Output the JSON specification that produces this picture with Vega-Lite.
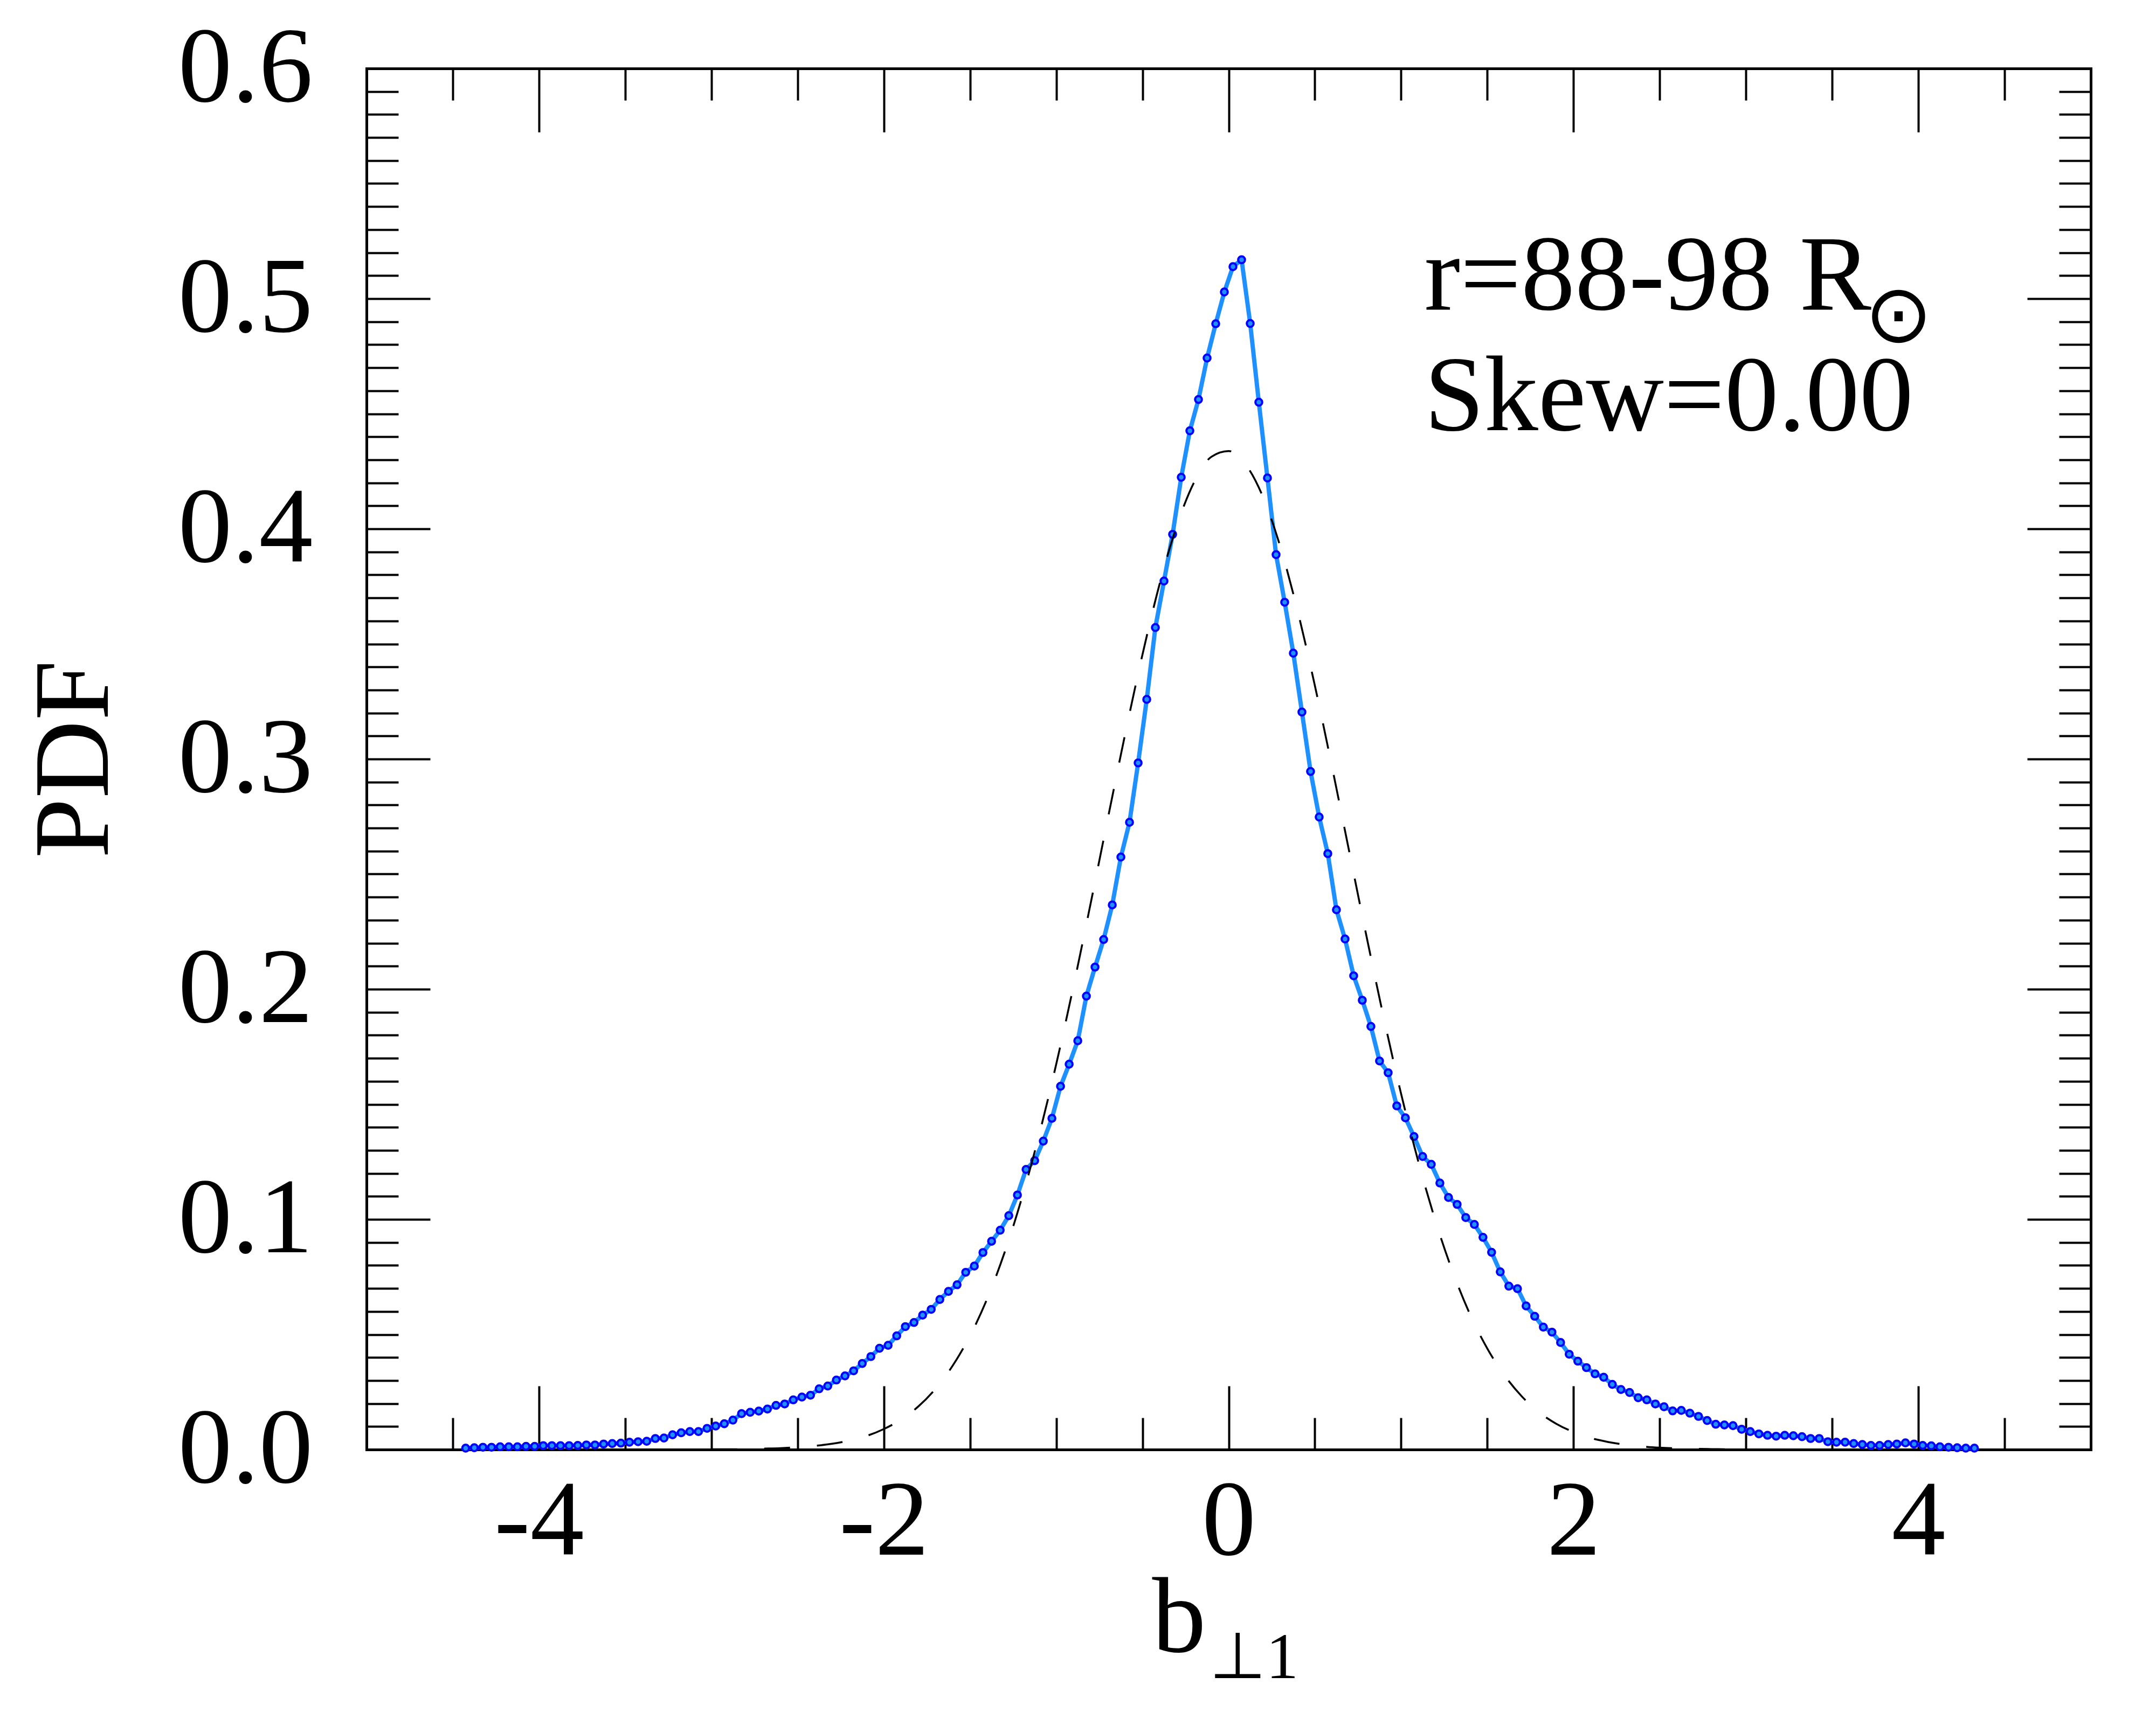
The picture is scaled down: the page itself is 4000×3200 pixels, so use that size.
{
  "$schema": "https://vega.github.io/schema/vega-lite/v6.json",
  "width": 3199,
  "height": 2562,
  "autosize": {"type": "none"},
  "padding": {"left": 680, "top": 127, "right": 121, "bottom": 511},
  "background": "white",
  "config": {
    "view": {"stroke": null},
    "axis": {
      "grid": false,
      "domainColor": "black",
      "domainWidth": 5,
      "domainCap": "square",
      "tickColor": "black",
      "tickWidth": 4,
      "labelFont": "Liberation Serif",
      "labelFontSize": 200,
      "labelColor": "black",
      "labelLimit": 0,
      "titleFont": "Liberation Serif",
      "titleFontSize": 200,
      "titleColor": "black",
      "titleFontWeight": "normal",
      "titleLimit": 0
    }
  },
  "datasets": {
    "pdf": [
      {"b": -4.425, "pdf": 0.0006}, {"b": -4.375, "pdf": 0.0008}, {"b": -4.325, "pdf": 0.001}, {"b": -4.275, "pdf": 0.001},
      {"b": -4.225, "pdf": 0.0012}, {"b": -4.175, "pdf": 0.0012}, {"b": -4.125, "pdf": 0.0012}, {"b": -4.075, "pdf": 0.0014},
      {"b": -4.025, "pdf": 0.0014}, {"b": -3.975, "pdf": 0.0017}, {"b": -3.925, "pdf": 0.0017}, {"b": -3.875, "pdf": 0.0017},
      {"b": -3.825, "pdf": 0.0017}, {"b": -3.775, "pdf": 0.0018}, {"b": -3.725, "pdf": 0.002}, {"b": -3.675, "pdf": 0.002},
      {"b": -3.625, "pdf": 0.0024}, {"b": -3.575, "pdf": 0.0026}, {"b": -3.525, "pdf": 0.0028}, {"b": -3.475, "pdf": 0.0032},
      {"b": -3.425, "pdf": 0.0034}, {"b": -3.375, "pdf": 0.0036}, {"b": -3.325, "pdf": 0.0048}, {"b": -3.275, "pdf": 0.005},
      {"b": -3.225, "pdf": 0.0064}, {"b": -3.175, "pdf": 0.0073}, {"b": -3.125, "pdf": 0.0078}, {"b": -3.075, "pdf": 0.0078},
      {"b": -3.025, "pdf": 0.0092}, {"b": -2.975, "pdf": 0.0102}, {"b": -2.925, "pdf": 0.0112}, {"b": -2.875, "pdf": 0.0128},
      {"b": -2.825, "pdf": 0.0156}, {"b": -2.775, "pdf": 0.0162}, {"b": -2.725, "pdf": 0.0167}, {"b": -2.675, "pdf": 0.0176},
      {"b": -2.625, "pdf": 0.0192}, {"b": -2.575, "pdf": 0.0198}, {"b": -2.525, "pdf": 0.0216}, {"b": -2.475, "pdf": 0.0228},
      {"b": -2.425, "pdf": 0.0236}, {"b": -2.375, "pdf": 0.0264}, {"b": -2.325, "pdf": 0.0276}, {"b": -2.275, "pdf": 0.0302},
      {"b": -2.225, "pdf": 0.032}, {"b": -2.175, "pdf": 0.0342}, {"b": -2.125, "pdf": 0.0374}, {"b": -2.075, "pdf": 0.0404},
      {"b": -2.025, "pdf": 0.044}, {"b": -1.975, "pdf": 0.0453}, {"b": -1.925, "pdf": 0.0494}, {"b": -1.875, "pdf": 0.0534},
      {"b": -1.825, "pdf": 0.0552}, {"b": -1.775, "pdf": 0.0584}, {"b": -1.725, "pdf": 0.0609}, {"b": -1.675, "pdf": 0.0652},
      {"b": -1.625, "pdf": 0.0687}, {"b": -1.575, "pdf": 0.0716}, {"b": -1.525, "pdf": 0.077}, {"b": -1.475, "pdf": 0.0797},
      {"b": -1.425, "pdf": 0.0856}, {"b": -1.375, "pdf": 0.0905}, {"b": -1.325, "pdf": 0.0953}, {"b": -1.275, "pdf": 0.1016},
      {"b": -1.225, "pdf": 0.1106}, {"b": -1.175, "pdf": 0.1217}, {"b": -1.125, "pdf": 0.1255}, {"b": -1.075, "pdf": 0.134},
      {"b": -1.025, "pdf": 0.1439}, {"b": -0.975, "pdf": 0.1578}, {"b": -0.925, "pdf": 0.1674}, {"b": -0.875, "pdf": 0.1776},
      {"b": -0.825, "pdf": 0.197}, {"b": -0.775, "pdf": 0.2096}, {"b": -0.725, "pdf": 0.2216}, {"b": -0.675, "pdf": 0.2366},
      {"b": -0.625, "pdf": 0.2574}, {"b": -0.575, "pdf": 0.2725}, {"b": -0.525, "pdf": 0.2983}, {"b": -0.475, "pdf": 0.3259},
      {"b": -0.425, "pdf": 0.3571}, {"b": -0.375, "pdf": 0.3773}, {"b": -0.325, "pdf": 0.3976}, {"b": -0.275, "pdf": 0.4224},
      {"b": -0.225, "pdf": 0.4426}, {"b": -0.175, "pdf": 0.4562}, {"b": -0.125, "pdf": 0.4742}, {"b": -0.075, "pdf": 0.4891},
      {"b": -0.025, "pdf": 0.5029}, {"b": 0.025, "pdf": 0.5139}, {"b": 0.075, "pdf": 0.5169}, {"b": 0.125, "pdf": 0.4892},
      {"b": 0.175, "pdf": 0.455}, {"b": 0.225, "pdf": 0.4221}, {"b": 0.275, "pdf": 0.3888}, {"b": 0.325, "pdf": 0.3681},
      {"b": 0.375, "pdf": 0.346}, {"b": 0.425, "pdf": 0.3204}, {"b": 0.475, "pdf": 0.2946}, {"b": 0.525, "pdf": 0.2748},
      {"b": 0.575, "pdf": 0.2589}, {"b": 0.625, "pdf": 0.2345}, {"b": 0.675, "pdf": 0.2218}, {"b": 0.725, "pdf": 0.2058},
      {"b": 0.775, "pdf": 0.1952}, {"b": 0.825, "pdf": 0.1838}, {"b": 0.875, "pdf": 0.1688}, {"b": 0.925, "pdf": 0.1637},
      {"b": 0.975, "pdf": 0.1493}, {"b": 1.025, "pdf": 0.1441}, {"b": 1.075, "pdf": 0.136}, {"b": 1.125, "pdf": 0.1273},
      {"b": 1.175, "pdf": 0.1239}, {"b": 1.225, "pdf": 0.1158}, {"b": 1.275, "pdf": 0.1095}, {"b": 1.325, "pdf": 0.1065},
      {"b": 1.375, "pdf": 0.1008}, {"b": 1.425, "pdf": 0.0978}, {"b": 1.475, "pdf": 0.0922}, {"b": 1.525, "pdf": 0.0857},
      {"b": 1.575, "pdf": 0.0772}, {"b": 1.625, "pdf": 0.071}, {"b": 1.675, "pdf": 0.0699}, {"b": 1.725, "pdf": 0.0624},
      {"b": 1.775, "pdf": 0.0579}, {"b": 1.825, "pdf": 0.0532}, {"b": 1.875, "pdf": 0.051}, {"b": 1.925, "pdf": 0.0465},
      {"b": 1.975, "pdf": 0.0414}, {"b": 2.025, "pdf": 0.0384}, {"b": 2.075, "pdf": 0.0356}, {"b": 2.125, "pdf": 0.0329},
      {"b": 2.175, "pdf": 0.0314}, {"b": 2.225, "pdf": 0.0283}, {"b": 2.275, "pdf": 0.0261}, {"b": 2.325, "pdf": 0.0248},
      {"b": 2.375, "pdf": 0.0225}, {"b": 2.425, "pdf": 0.0216}, {"b": 2.475, "pdf": 0.0198}, {"b": 2.525, "pdf": 0.0186},
      {"b": 2.575, "pdf": 0.0168}, {"b": 2.625, "pdf": 0.017}, {"b": 2.675, "pdf": 0.0158}, {"b": 2.725, "pdf": 0.0144},
      {"b": 2.775, "pdf": 0.0126}, {"b": 2.825, "pdf": 0.011}, {"b": 2.875, "pdf": 0.0107}, {"b": 2.925, "pdf": 0.0104},
      {"b": 2.975, "pdf": 0.0088}, {"b": 3.025, "pdf": 0.0078}, {"b": 3.075, "pdf": 0.0068}, {"b": 3.125, "pdf": 0.0062},
      {"b": 3.175, "pdf": 0.0058}, {"b": 3.225, "pdf": 0.0062}, {"b": 3.275, "pdf": 0.006}, {"b": 3.325, "pdf": 0.0056},
      {"b": 3.375, "pdf": 0.0048}, {"b": 3.425, "pdf": 0.0048}, {"b": 3.475, "pdf": 0.0034}, {"b": 3.525, "pdf": 0.0032},
      {"b": 3.575, "pdf": 0.0032}, {"b": 3.625, "pdf": 0.0026}, {"b": 3.675, "pdf": 0.0022}, {"b": 3.725, "pdf": 0.0018},
      {"b": 3.775, "pdf": 0.0018}, {"b": 3.825, "pdf": 0.0022}, {"b": 3.875, "pdf": 0.0024}, {"b": 3.925, "pdf": 0.0029},
      {"b": 3.975, "pdf": 0.0024}, {"b": 4.025, "pdf": 0.0018}, {"b": 4.075, "pdf": 0.0016}, {"b": 4.125, "pdf": 0.0012},
      {"b": 4.175, "pdf": 0.001}, {"b": 4.225, "pdf": 0.0008}, {"b": 4.275, "pdf": 0.0006}, {"b": 4.325, "pdf": 0.0006}
    ],
    "gauss": [
      {"b": -3.0, "g": 0.0001}, {"b": -2.9, "g": 0.0001}, {"b": -2.8, "g": 0.0002}, {"b": -2.7, "g": 0.0004},
      {"b": -2.6, "g": 0.0006}, {"b": -2.5, "g": 0.001}, {"b": -2.4, "g": 0.0016}, {"b": -2.3, "g": 0.0025},
      {"b": -2.2, "g": 0.0039}, {"b": -2.1, "g": 0.0059}, {"b": -2.0, "g": 0.0089}, {"b": -1.9, "g": 0.013},
      {"b": -1.8, "g": 0.0187}, {"b": -1.7, "g": 0.0264}, {"b": -1.6, "g": 0.0365}, {"b": -1.5, "g": 0.0494},
      {"b": -1.4, "g": 0.0656}, {"b": -1.3, "g": 0.0855}, {"b": -1.2, "g": 0.1091}, {"b": -1.1, "g": 0.1365},
      {"b": -1.0, "g": 0.1674}, {"b": -0.9, "g": 0.2013}, {"b": -0.8, "g": 0.2374}, {"b": -0.7, "g": 0.2744},
      {"b": -0.6, "g": 0.3109}, {"b": -0.5, "g": 0.3453}, {"b": -0.4, "g": 0.3761}, {"b": -0.3, "g": 0.4015},
      {"b": -0.2, "g": 0.4203}, {"b": -0.1, "g": 0.4313}, {"b": 0.0, "g": 0.4338}, {"b": 0.1, "g": 0.4278},
      {"b": 0.2, "g": 0.4137}, {"b": 0.3, "g": 0.3921}, {"b": 0.4, "g": 0.3643}, {"b": 0.5, "g": 0.3319},
      {"b": 0.6, "g": 0.2964}, {"b": 0.7, "g": 0.2595}, {"b": 0.8, "g": 0.2228}, {"b": 0.9, "g": 0.1874},
      {"b": 1.0, "g": 0.1546}, {"b": 1.1, "g": 0.1251}, {"b": 1.2, "g": 0.0992}, {"b": 1.3, "g": 0.0771},
      {"b": 1.4, "g": 0.0587}, {"b": 1.5, "g": 0.0439}, {"b": 1.6, "g": 0.0322}, {"b": 1.7, "g": 0.0231},
      {"b": 1.8, "g": 0.0162}, {"b": 1.9, "g": 0.0112}, {"b": 2.0, "g": 0.0076}, {"b": 2.1, "g": 0.005},
      {"b": 2.2, "g": 0.0033}, {"b": 2.3, "g": 0.0021}, {"b": 2.4, "g": 0.0013}, {"b": 2.5, "g": 0.0008},
      {"b": 2.6, "g": 0.0005}, {"b": 2.7, "g": 0.0003}, {"b": 2.8, "g": 0.0002}, {"b": 2.9, "g": 0.0001},
      {"b": 3.0, "g": 0.0001}
    ]
  },
  "resolve": {"axis": {"x": "independent", "y": "independent"}},
  "layer": [
    {
      "data": {"name": "pdf"},
      "mark": {"type": "line", "color": "#1E90FF", "strokeWidth": 8, "interpolate": "linear"},
      "encoding": {
        "x": {
          "field": "b", "type": "quantitative",
          "scale": {"domain": [-5, 5], "nice": false, "zero": false},
          "axis": {
            "orient": "bottom", "values": [-4, -2, 0, 2, 4], "ticks": false, "domain": true,
            "labelPadding": 36, "labelExpr": "datum.value + ''", "labelFlush": false, "labelOverlap": false,
            "title": "b", "titleAlign": "left", "titleX": 1457, "titleY": 374, "titleBaseline": "alphabetic"
          }
        },
        "y": {
          "field": "pdf", "type": "quantitative",
          "scale": {"domain": [0, 0.6], "nice": false, "zero": false},
          "axis": {
            "orient": "left", "values": [0, 0.1, 0.2, 0.3, 0.4, 0.5, 0.6], "ticks": false, "domain": true,
            "format": ".1f", "labelPadding": 100, "labelFlush": false, "labelOverlap": false,
            "title": "PDF", "titleAngle": 270, "titleX": -481, "titleY": 1281, "titleAlign": "center", "titleBaseline": "alphabetic"
          }
        }
      }
    },
    {
      "data": {"name": "pdf"},
      "mark": {"type": "point", "shape": "circle", "filled": false, "fill": "#1E90FF", "fillOpacity": 1, "stroke": "#0000FF", "strokeWidth": 4, "size": 160, "opacity": 1},
      "encoding": {
        "x": {
          "field": "b", "type": "quantitative",
          "axis": {"orient": "bottom", "values": [-4, -2, 0, 2, 4], "tickSize": -118, "labels": false, "domain": false, "title": null}
        },
        "y": {
          "field": "pdf", "type": "quantitative",
          "axis": {"orient": "left", "values": [0.1, 0.2, 0.3, 0.4, 0.5], "tickSize": -118, "labels": false, "domain": false, "title": null}
        }
      }
    },
    {
      "data": {"name": "gauss"},
      "mark": {"type": "line", "color": "black", "strokeWidth": 3.5, "strokeDash": [48, 50], "interpolate": "monotone"},
      "encoding": {
        "x": {
          "field": "b", "type": "quantitative",
          "axis": {"orient": "bottom", "values": [-4.5, -3.5, -3, -2.5, -1.5, -1, -0.5, 0.5, 1, 1.5, 2.5, 3, 3.5, 4.5], "tickSize": -59, "labels": false, "domain": false, "title": null}
        },
        "y": {
          "field": "g", "type": "quantitative",
          "axis": {"orient": "left", "values": [0.01, 0.02, 0.03, 0.04, 0.05, 0.06, 0.07, 0.08, 0.09, 0.11, 0.12, 0.13, 0.14, 0.15, 0.16, 0.17, 0.18, 0.19, 0.21, 0.22, 0.23, 0.24, 0.25, 0.26, 0.27, 0.28, 0.29, 0.31, 0.32, 0.33, 0.34, 0.35, 0.36, 0.37, 0.38, 0.39, 0.41, 0.42, 0.43, 0.44, 0.45, 0.46, 0.47, 0.48, 0.49, 0.51, 0.52, 0.53, 0.54, 0.55, 0.56, 0.57, 0.58, 0.59], "tickSize": -59, "labels": false, "domain": false, "title": null}
        }
      }
    },
    {
      "data": {"values": [{}]},
      "mark": {"type": "text", "text": "r=88-98 R", "font": "Liberation Serif", "fontSize": 200, "align": "left", "baseline": "alphabetic", "color": "black"},
      "encoding": {
        "x": {
          "datum": 1.135, "type": "quantitative",
          "axis": {"orient": "top", "values": [-4, -2, 0, 2, 4], "tickSize": -118, "labels": false, "domain": true, "title": null}
        },
        "y": {
          "datum": 0.4953, "type": "quantitative",
          "axis": {"orient": "right", "values": [0.1, 0.2, 0.3, 0.4, 0.5], "tickSize": -118, "labels": false, "domain": true, "title": null}
        }
      }
    },
    {
      "data": {"values": [{}]},
      "mark": {"type": "text", "text": "Skew=0.00", "font": "Liberation Serif", "fontSize": 200, "align": "left", "baseline": "alphabetic", "color": "black"},
      "encoding": {
        "x": {
          "datum": 1.135, "type": "quantitative",
          "axis": {"orient": "top", "values": [-4.5, -3.5, -3, -2.5, -1.5, -1, -0.5, 0.5, 1, 1.5, 2.5, 3, 3.5, 4.5], "tickSize": -59, "labels": false, "domain": false, "title": null}
        },
        "y": {
          "datum": 0.4429, "type": "quantitative",
          "axis": {"orient": "right", "values": [0.01, 0.02, 0.03, 0.04, 0.05, 0.06, 0.07, 0.08, 0.09, 0.11, 0.12, 0.13, 0.14, 0.15, 0.16, 0.17, 0.18, 0.19, 0.21, 0.22, 0.23, 0.24, 0.25, 0.26, 0.27, 0.28, 0.29, 0.31, 0.32, 0.33, 0.34, 0.35, 0.36, 0.37, 0.38, 0.39, 0.41, 0.42, 0.43, 0.44, 0.45, 0.46, 0.47, 0.48, 0.49, 0.51, 0.52, 0.53, 0.54, 0.55, 0.56, 0.57, 0.58, 0.59], "tickSize": -59, "labels": false, "domain": false, "title": null}
        }
      }
    },
    {
      "data": {"values": [{}]},
      "mark": {"type": "text", "text": "⊙", "font": "DejaVu Sans", "fontSize": 150, "align": "center", "baseline": "middle", "color": "black"},
      "encoding": {
        "x": {"datum": 3.885, "type": "quantitative", "axis": null},
        "y": {"datum": 0.4918, "type": "quantitative", "axis": null}
      }
    },
    {
      "data": {"values": [{}]},
      "mark": {"type": "text", "text": "⊥1", "font": "Liberation Serif", "fontSize": 120, "align": "left", "baseline": "alphabetic", "color": "black"},
      "encoding": {
        "x": {"datum": -0.111, "type": "quantitative", "axis": null},
        "y": {"datum": -0.0993, "type": "quantitative", "axis": null}
      }
    }
  ]
}
